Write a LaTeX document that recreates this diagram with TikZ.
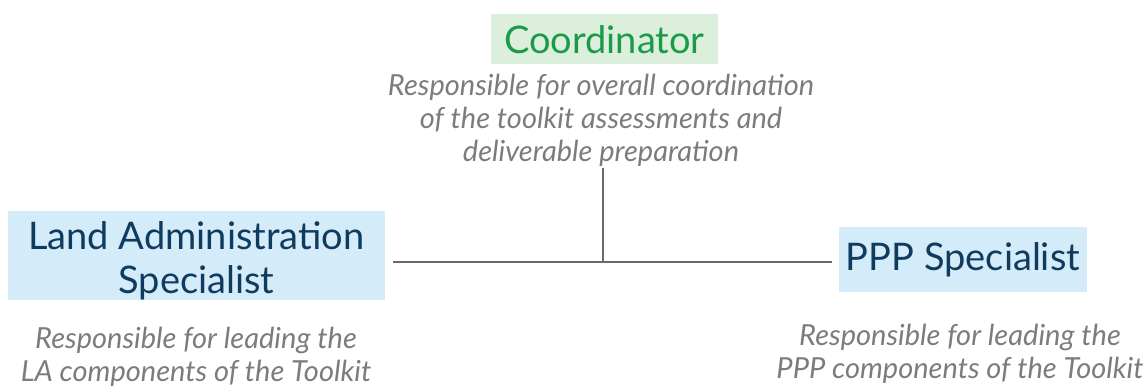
\documentclass[tikz,border=0pt]{standalone}
\usepackage{fontspec}
\setmainfont{Lato}
\definecolor{cgreen}{HTML}{1A9B48}
\definecolor{cgreenbg}{HTML}{DCEEDC}
\definecolor{cblue}{HTML}{0F3B5E}
\definecolor{cbluebg}{HTML}{D4EBF9}
\definecolor{cgray}{HTML}{7C7C7C}
\definecolor{cline}{HTML}{6A6A6A}
\tikzset{
  titlebox/.style={inner sep=0pt, anchor=center, align=center},
  desc/.style={text=cgray, align=center, font=\fontsize{29}{33}\selectfont\itshape, inner sep=0pt},
  conn/.style={draw=cline, line width=1.2pt},
}
\begin{document}
\begin{tikzpicture}[x=1pt,y=-1pt]
\useasboundingbox (0,0) rectangle (1148,387);
% boxes
\fill[cgreenbg] (491,14) rectangle (718,64);
\fill[cbluebg] (8,211) rectangle (385,300);
\fill[cbluebg] (839,227) rectangle (1087,292);
\node[titlebox, text=cgreen, font=\fontsize{38}{44}\selectfont] (coord) at (604.5,40) {Coordinator};
\node[titlebox, text=cblue, font=\fontsize{38}{44}\selectfont] (la) at (196.5,261) {Land Administration\\Specialist};
\node[titlebox, text=cblue, font=\fontsize{38}{44}\selectfont] (ppp) at (963,260) {PPP Specialist};
\node[desc] (cdesc) at (601,120) {Responsible for overall coordination\\of the toolkit assessments and\\deliverable preparation};
\node[desc] (ladesc) at (196,357) {Responsible for leading the\\LA components of the Toolkit};
\node[desc] (pppdesc) at (960,354) {Responsible for leading the\\PPP components of the Toolkit};
\coordinate (top) at (603,168);
\coordinate (mid) at (603,262);
\coordinate (left) at (393,262);
\coordinate (right) at (832,262);
\draw[conn] (top) -- (mid);
\draw[conn] (left) -- (right);
\end{tikzpicture}
\end{document}
